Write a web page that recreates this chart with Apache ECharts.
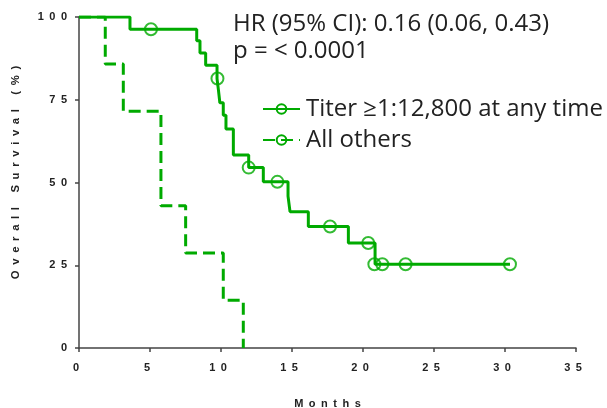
<!DOCTYPE html>
<html>
<head>
<meta charset="utf-8">
<script src="https://cdn.jsdelivr.net/npm/echarts@6/dist/echarts.min.js"></script>
<style>
  html, body { margin: 0; padding: 0; background: #fff; }
  #chart { width: 607px; height: 408px; }
</style>
</head>
<body>
<div id="chart"></div>
<script>
// Kaplan-Meier steps (months, % surviving)
const titerMonths = [0, 3.59, 8.29, 8.52, 8.92, 9.72, 9.82, 9.92, 10.16, 10.35, 10.87, 11.95, 12.98, 14.72, 14.86, 16.15, 18.97, 20.85, 30.35];
const titerSurv   = [100, 96.3, 92.8, 89.1, 85.4, 81.4, 77.9, 74.1, 70.3, 66.2, 58.3, 54.5, 50.2, 45.9, 41.2, 36.7, 31.7, 25.3, 25.3];

// censored patients (circles) on the titer curve
const censorMonths = [5.07, 9.75, 11.95, 13.97, 17.68, 20.37, 20.8, 21.36, 23.0, 30.35];
const censorSurv   = [96.3, 81.4, 54.5, 50.2, 36.7, 31.7, 25.3, 25.3, 25.3, 25.3];

const otherMonths = [0, 1.85, 3.12, 5.77, 7.51, 10.16, 11.57];
const otherSurv   = [100, 85.8, 71.5, 43.0, 28.7, 14.4, 0];

const seriesNames = ["Titer \u22651:12,800 at any time", "All others"];
const statsText = ["HR (95% CI): 0.16 (0.06, 0.43)", "p = < 0.0001"];

const green = "#00aa00";
// the original spreads out every axis character
const spaced = (s) => String(s).split("").join("\u2002");

const pairs = (xs, ys) => xs.map((x, i) => [x, ys[i]]);

const chart = echarts.init(document.getElementById("chart"));

const axisFont = { fontFamily: "Liberation Sans", fontWeight: "bold", fontSize: 11, color: "#222" };

const option = {
  backgroundColor: "#fff",
  animation: false,
  title: {
    text: statsText.join("\n"),
    left: 228,
    top: 6,
    textStyle: {
      fontFamily: "Open Sans",
      fontSize: 24,
      fontWeight: "normal",
      color: "#222",
      lineHeight: 27,
    },
  },
  legend: {
    data: seriesNames,
    orient: "vertical",
    left: 257,
    top: 90,
    itemWidth: 37,
    itemHeight: 12,
    itemGap: 3,
    lineStyle: { width: 2 },
    itemStyle: { color: "rgba(0,0,0,0)", borderColor: green, borderWidth: 2 },
    textStyle: {
      fontFamily: "Open Sans",
      fontSize: 24,
      color: "#222",
      lineHeight: 28,
      padding: [0, 0, 0, 1],
    },
  },
  grid: { left: 79, right: 31, top: 17, bottom: 60, outerBoundsMode: "none" },
  xAxis: {
    type: "value",
    min: 0,
    max: 35,
    interval: 5,
    name: spaced("Months"),
    nameLocation: "middle",
    nameGap: 50,
    nameTextStyle: axisFont,
    axisLine: { lineStyle: { color: "#444", width: 1.5 } },
    axisTick: { length: 4, lineStyle: { color: "#444", width: 1.5 } },
    axisLabel: Object.assign({ formatter: (v) => spaced(v), margin: 14, padding: [0, 6, 0, 0] }, axisFont),
    splitLine: { show: false },
  },
  yAxis: {
    type: "value",
    min: 0,
    max: 100,
    interval: 25,
    name: spaced("Overall Survival (%)"),
    nameLocation: "middle",
    nameGap: 58,
    nameTextStyle: Object.assign({}, axisFont, { fontSize: 11.3, padding: [0, 0, 0, 20] }),
    axisLine: { show: true, lineStyle: { color: "#444", width: 1.5 } },
    axisTick: { show: true, length: 4, lineStyle: { color: "#444", width: 1.5 } },
    axisLabel: Object.assign({ formatter: (v) => spaced(v), margin: 12 }, axisFont),
    splitLine: { show: false },
  },
  series: [
    {
      name: seriesNames[0],
      type: "line",
      step: "end",
      data: pairs(titerMonths, titerSurv),
      symbol: "circle",
      showSymbol: false,
      lineStyle: { color: green, width: 3 },
      itemStyle: { color: green },
      z: 3,
    },
    {
      name: seriesNames[1],
      type: "line",
      step: "end",
      data: pairs(otherMonths, otherSurv),
      symbol: "circle",
      showSymbol: false,
      lineStyle: { color: green, width: 3, type: [12, 6] },
      itemStyle: { color: green },
      z: 2,
    },
    {
      name: "censored",
      type: "scatter",
      data: pairs(censorMonths, censorSurv),
      symbol: "circle",
      symbolSize: 12,
      itemStyle: { color: "rgba(0,0,0,0)", borderColor: green, borderWidth: 2 },
      z: 4,
    },
  ],
};

chart.setOption(option);
</script>
</body>
</html>
